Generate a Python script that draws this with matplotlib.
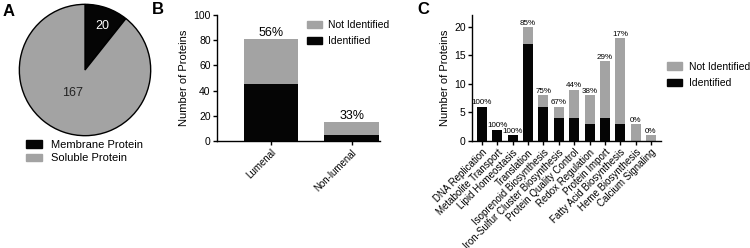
import matplotlib
matplotlib.use("Agg")
import matplotlib.pyplot as plt
from matplotlib.patches import Patch

plt.rcParams['font.family'] = ['Liberation Sans', 'DejaVu Sans']

# Panel A
pie_labels = ['Membrane Protein', 'Soluble Protein']
pie_counts = [20, 167]

# Panel B
loc_names = ['Lumenal', 'Non-lumenal']
loc_total = [81, 15]
loc_ident = [45, 5]

# Panel C
func_names = ['DNA Replication', 'Metabolite Transport', 'Lipid Homeostasis', 'Translation',
              'Isoprenoid Biosynthesis', 'Iron-Sulfur Cluster Biosynthesis',
              'Protein Quality Control', 'Redox Regulation', 'Protein Import',
              'Fatty Acid Biosynthesis', 'Heme Biosynthesis', 'Calcium Signaling']
func_total = [6, 2, 1, 20, 8, 6, 9, 8, 14, 18, 3, 1]
func_ident = [6, 2, 1, 17, 6, 4, 4, 3, 4, 3, 0, 0]

GREY = '#a3a3a3'
BLACK = '#050505'

fig = plt.figure(figsize=(7.5, 2.48), dpi=100)


def style_axis(ax):
    for s in ['top', 'right']:
        ax.spines[s].set_visible(False)
    for s in ['left', 'bottom']:
        ax.spines[s].set_linewidth(1.0)
    ax.tick_params(direction='out', length=3, width=1, pad=1.5)


def pct(i, t):
    return f"{int(100 * i / t + 0.5)}%"


# ---- A: pie
axA = fig.add_axes([0.024, 0.4476, 0.1787, 0.5403])
wedges, texts = axA.pie(pie_counts, colors=[BLACK, GREY], startangle=90, counterclock=False,
                        wedgeprops=dict(edgecolor='black', linewidth=1.0))
axA.set_xlim(-1.02, 1.02)
axA.set_ylim(-1.02, 1.02)
axA.text(0.27, 0.67, str(pie_counts[0]), color='white', fontsize=9, ha='center', va='center')
axA.text(-0.19, -0.35, str(pie_counts[1]), color='#222222', fontsize=9, ha='center', va='center')
fig.legend([Patch(color=BLACK), Patch(color=GREY)], pie_labels, loc='upper left',
           bbox_to_anchor=(0.034, 0.435),
           frameon=False, fontsize=8, handlelength=1.5, handleheight=0.7,
           handletextpad=0.8, labelspacing=0.3, borderpad=0, borderaxespad=0)

# ---- B: lumenal / non-lumenal
axB = fig.add_axes([0.2893, 0.4315, 0.2173, 0.508])
xb = range(len(loc_names))
not_b = [t - i for t, i in zip(loc_total, loc_ident)]
axB.bar(xb, loc_ident, width=0.68, color=BLACK)
axB.bar(xb, not_b, bottom=loc_ident, width=0.68, color=GREY)
for x, t, i in zip(xb, loc_total, loc_ident):
    axB.text(x, t + 0.3, pct(i, t), ha='center', va='bottom', fontsize=9)
axB.set_xlim(-0.67, 1.35)
axB.set_ylim(0, 100)
axB.set_yticks([0, 20, 40, 60, 80, 100])
axB.set_xticks(list(xb))
axB.set_xticklabels(loc_names, rotation=45, ha='right', va='top', rotation_mode='anchor', fontsize=7)
axB.tick_params(axis='y', labelsize=7.5)
axB.set_ylabel('Number of Proteins', fontsize=8, labelpad=3)
style_axis(axB)
axB.legend(handles=[Patch(color=GREY), Patch(color=BLACK)], labels=['Not Identified', 'Identified'],
           loc='upper left', bbox_to_anchor=(0.55, 0.96), frameon=False, fontsize=7.5,
           handlelength=1.5, handleheight=0.7, handletextpad=0.6, labelspacing=0.6,
           borderpad=0, borderaxespad=0)

# ---- C: functional categories
axC = fig.add_axes([0.6293, 0.4315, 0.252, 0.508])
xc = range(len(func_names))
not_c = [t - i for t, i in zip(func_total, func_ident)]
axC.bar(xc, func_ident, width=0.65, color=BLACK)
axC.bar(xc, not_c, bottom=func_ident, width=0.65, color=GREY)
for x, t, i in zip(xc, func_total, func_ident):
    axC.text(x, t + 0.05, pct(i, t), ha='center', va='bottom', fontsize=5.8)
axC.set_xlim(-0.65, 11.65)
axC.set_ylim(0, 22.1)
axC.set_yticks([0, 5, 10, 15, 20])
axC.set_xticks(list(xc))
axC.set_xticklabels(func_names, rotation=45, ha='right', va='top', rotation_mode='anchor', fontsize=7)
axC.tick_params(axis='y', labelsize=7.5)
axC.set_ylabel('Number of Proteins', fontsize=8, labelpad=3)
style_axis(axC)
axC.legend(handles=[Patch(color=GREY), Patch(color=BLACK)], labels=['Not Identified', 'Identified'],
           loc='upper left', bbox_to_anchor=(1.03, 0.63), frameon=False, fontsize=7.5,
           handlelength=1.5, handleheight=0.7, handletextpad=0.6, labelspacing=0.6,
           borderpad=0, borderaxespad=0)

# panel letters
fig.text(0.003, 0.985, 'A', fontsize=12, fontweight='bold', va='top')
fig.text(0.203, 0.99, 'B', fontsize=12, fontweight='bold', va='top')
fig.text(0.556, 0.99, 'C', fontsize=12, fontweight='bold', va='top')

fig.savefig('out.png', dpi=100, facecolor='white')
